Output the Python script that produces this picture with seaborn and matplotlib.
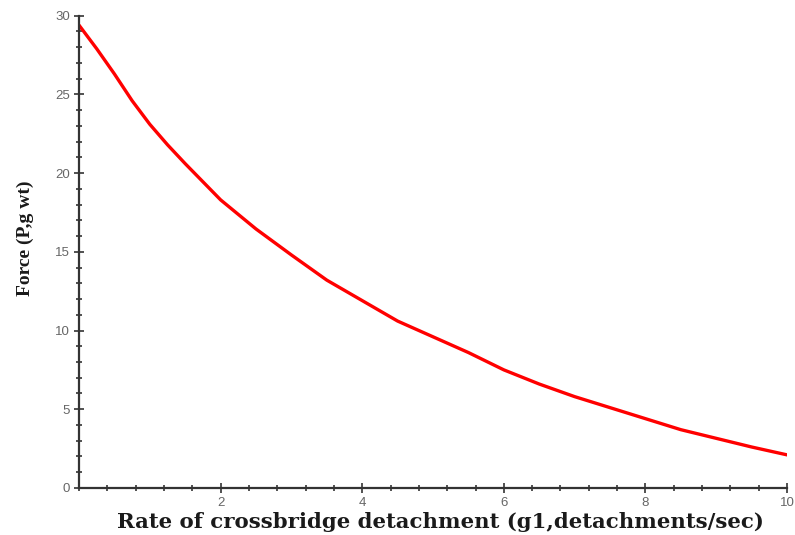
import numpy as np
import pandas as pd
import seaborn as sns
from matplotlib import pyplot as plt
from matplotlib.ticker import MultipleLocator

# values
rate = [0.0, 0.25, 0.5, 0.75, 1.0, 1.25, 1.5, 2.0, 2.5, 3.0, 3.5, 4.0, 4.5, 5.0,
        5.5, 6.0, 6.5, 7.0, 7.5, 8.0, 8.5, 9.0, 9.5, 10.0]
force = [29.4, 27.9, 26.3, 24.6, 23.1, 21.8, 20.6, 18.3, 16.45, 14.8, 13.2, 11.9, 10.6, 9.6,
         8.6, 7.5, 6.6, 5.8, 5.1, 4.4, 3.7, 3.15, 2.6, 2.1]
x_ticks = [2, 4, 6, 8, 10]
y_ticks = [0, 5, 10, 15, 20, 25, 30]

df = pd.DataFrame({'rate': rate, 'force': force})

sns.set_style('ticks')
plt.rcParams['font.family'] = ['Liberation Sans', 'DejaVu Sans']

fig = plt.figure(figsize=(7.95, 5.35), dpi=100)
ax = fig.add_axes([0.0994, 0.088, 0.8906, 0.8826])

sns.lineplot(data=df, x='rate', y='force', ax=ax, color='#ff0000', linewidth=2.4)

ax.set_xlim(0, 10)
ax.set_ylim(0, 30)
ax.set_xticks(x_ticks)
ax.set_yticks(y_ticks)
ax.xaxis.set_minor_locator(MultipleLocator(0.4))
ax.yaxis.set_minor_locator(MultipleLocator(1))
ax.tick_params(which='major', direction='inout', length=7, width=1.2,
               colors='#333333', labelcolor='#666666', labelsize=9.5, pad=3)
ax.tick_params(which='minor', direction='inout', length=4, width=1.2, colors='#333333')

sns.despine(ax=ax)
for side in ['left', 'bottom']:
    ax.spines[side].set_color('#333333')
    ax.spines[side].set_linewidth(1.6)

ax.set_xlabel('Rate of crossbridge detachment (g1,detachments/sec)',
              family='DejaVu Serif', fontweight='bold', fontsize=15.3,
              color='#1a1a1a', va='center')
ax.xaxis.set_label_coords(0.51, -0.072)
ax.set_ylabel('Force (P,g wt)', family='Liberation Serif', fontweight='bold',
              fontsize=14, color='#1a1a1a', va='center')
ax.yaxis.set_label_coords(-0.076, 0.529)

fig.savefig('out.png', dpi=100)
